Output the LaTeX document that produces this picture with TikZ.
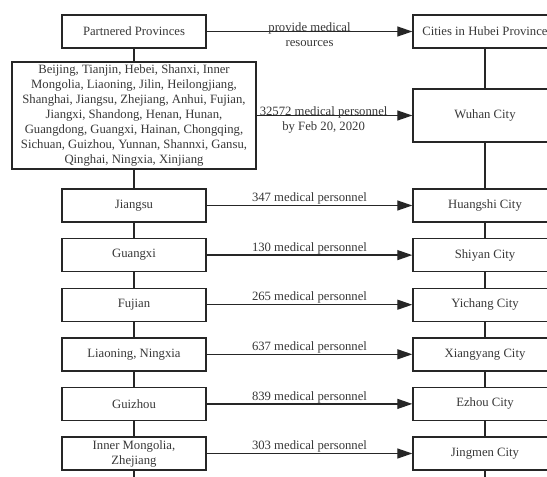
\documentclass[tikz,border=0pt]{standalone}
\usepackage{fontspec}
\setmainfont{Liberation Serif}
\usepackage{tikz}
\usetikzlibrary{arrows.meta, positioning}
\tikzset{
    shapenode/.style = {draw=black!85, rectangle, fill=none, line width=1.4pt, inner sep=2pt,
      minimum width=144pt, minimum height=33pt, node distance=0em, align=center},
    listnode/.style = {shapenode, minimum width=244pt, minimum height=107pt},
    textnode/.style  = {draw=none, fill=none, rectangle, inner sep=0.4pt, align=center},
    link/.style = {draw=black!85, line width=1.3pt},
    connect/.style = {link, -{Triangle[length=15pt,width=10pt]}}
}
\definecolor{txt}{RGB}{55, 55, 55}

\begin{document}
\begin{tikzpicture}[x=1pt, y=-1pt, font=\fontsize{12.7}{15}\selectfont, text=txt]
\useasboundingbox (0,0) rectangle (547,477);
% left column: provinces
\node [name=partnered, shapenode] at (134,31.5) {Partnered Provinces};
\node [name=provlist, listnode, below of = partnered, yshift=-84pt] {Beijing, Tianjin, Hebei, Shanxi, Inner\\
  Mongolia, Liaoning, Jilin, Heilongjiang,\\ Shanghai, Jiangsu, Zhejiang, Anhui, Fujian,\\
  Jiangxi, Shandong, Henan, Hunan,\\ Guangdong, Guangxi, Hainan, Chongqing,\\
  Sichuan, Guizhou, Yunnan, Shannxi, Gansu,\\ Qinghai, Ningxia, Xinjiang};
\node [name=jiangsu, shapenode, below of = provlist, yshift=-90pt] {Jiangsu};
\node [name=guangxi, shapenode, below of = jiangsu, yshift=-49.6pt] {Guangxi};
\node [name=fujian, shapenode, below of = guangxi, yshift=-49.6pt] {Fujian};
\node [name=liaoning, shapenode, below of = fujian, yshift=-49.6pt] {Liaoning, Ningxia};
\node [name=guizhou, shapenode, below of = liaoning, yshift=-49.6pt] {Guizhou};
\node [name=neimeng, shapenode, below of = guizhou, yshift=-49.6pt] {Inner Mongolia,\\ Zhejiang};
% right column: cities
\node [name=hubei, shapenode, right of = partnered, xshift=351pt] {Cities in Hubei Province};
\node [name=wuhan, shapenode, minimum height=53pt, right of = provlist, xshift=351pt] {Wuhan City};
\node [name=huangshi, shapenode, right of = jiangsu, xshift=351pt] {Huangshi City};
\node [name=shiyan, shapenode, right of = guangxi, xshift=351pt] {Shiyan City};
\node [name=yichang, shapenode, right of = fujian, xshift=351pt] {Yichang City};
\node [name=xiangyang, shapenode, right of = liaoning, xshift=351pt] {Xiangyang City};
\node [name=ezhou, shapenode, right of = guizhou, xshift=351pt] {Ezhou City};
\node [name=jingmen, shapenode, right of = neimeng, xshift=351pt] {Jingmen City};
\coordinate (leftend) at (134,477);
\coordinate (rightend) at (485,477);
% chains
\draw [link] (partnered) -- (provlist) -- (jiangsu) -- (guangxi) -- (fujian) -- (liaoning) -- (guizhou) -- (neimeng) -- (leftend);
\draw [link] (hubei) -- (wuhan) -- (huangshi) -- (shiyan) -- (yichang) -- (xiangyang) -- (ezhou) -- (jingmen) -- (rightend);
% personnel sent
\draw (partnered) edge[connect] node[textnode, yshift=-3pt] {provide medical\\ resources} (hubei);
\draw (provlist) edge[connect] node[textnode, pos=0.43, yshift=-4pt] {32572 medical personnel\\ by Feb 20, 2020} (wuhan);
\draw (jiangsu) edge[connect] node[textnode, above] {347 medical personnel} (huangshi);
\draw (guangxi) edge[connect] node[textnode, above] {130 medical personnel} (shiyan);
\draw (fujian) edge[connect] node[textnode, above] {265 medical personnel} (yichang);
\draw (liaoning) edge[connect] node[textnode, above] {637 medical personnel} (xiangyang);
\draw (guizhou) edge[connect] node[textnode, above] {839 medical personnel} (ezhou);
\draw (neimeng) edge[connect] node[textnode, above] {303 medical personnel} (jingmen);
\end{tikzpicture}
\end{document}
